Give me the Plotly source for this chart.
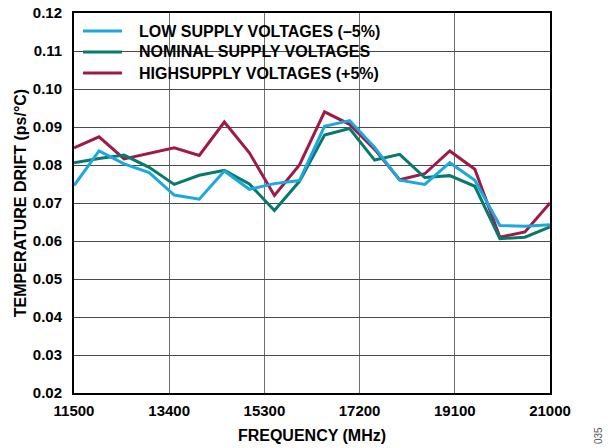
import plotly.graph_objects as go

# Frequency sweep (MHz) shared by all three supply conditions
freq_mhz = [11500, 12000, 12500, 13000, 13500, 14000, 14500, 15000, 15500, 16000,
            16500, 17000, 17500, 18000, 18500, 19000, 19500, 20000, 20500, 21000]

# Temperature drift (ps/°C) per supply condition
drift_low = [0.0746, 0.0837, 0.0803, 0.0780, 0.0721, 0.0710, 0.0784, 0.0736, 0.0751, 0.0759,
             0.0902, 0.0917, 0.0846, 0.0760, 0.0749, 0.0806, 0.0760, 0.0641, 0.0639, 0.0643]
drift_nominal = [0.0806, 0.0817, 0.0826, 0.0794, 0.0749, 0.0773, 0.0786, 0.0750, 0.0680, 0.0757,
                 0.0879, 0.0896, 0.0813, 0.0828, 0.0767, 0.0772, 0.0744, 0.0606, 0.0610, 0.0637]
drift_high = [0.0845, 0.0874, 0.0816, 0.0830, 0.0845, 0.0825, 0.0913, 0.0832, 0.0720, 0.0800,
              0.0940, 0.0907, 0.0841, 0.0761, 0.0777, 0.0837, 0.0789, 0.0610, 0.0624, 0.0700]

series_names = ["LOW SUPPLY VOLTAGES (\u20135%)", "NOMINAL SUPPLY VOLTAGES",
                "HIGHSUPPLY VOLTAGES (+5%)"]
series_colors = ["#1ba7df", "#087a6d", "#9e1b48"]

x_ticks = [11500, 13400, 15300, 17200, 19100, 21000]
y_ticks = [0.02, 0.03, 0.04, 0.05, 0.06, 0.07, 0.08, 0.09, 0.10, 0.11, 0.12]

FONT = "Liberation Sans, Arial, sans-serif"

fig = go.Figure()
series = [drift_low, drift_nominal, drift_high]
# draw high first so the low-supply curve ends up on top
for i in [2, 1, 0]:
    fig.add_trace(go.Scatter(
        x=freq_mhz, y=series[i], mode="lines", name=series_names[i],
        line=dict(color=series_colors[i], width=3), showlegend=False,
    ))

# Legend key built in paper coordinates: white panel over the gridlines,
# a short swatch line and a bold label per series
shapes = [dict(type="rect", xref="paper", yref="paper", layer="between",
               x0=0, x1=0.662, y0=0.803, y1=0.987,
               fillcolor="white", line=dict(width=0))]
annotations = []
key_rows = [0.9526, 0.8974, 0.8421]
for name, color, yk in zip(series_names, series_colors, key_rows):
    shapes.append(dict(type="line", xref="paper", yref="paper", layer="above",
                       x0=0.0189, x1=0.1008, y0=yk, y1=yk,
                       line=dict(color=color, width=3)))
    annotations.append(dict(text=name, xref="paper", yref="paper", x=0.1324, y=yk,
                            xanchor="left", yanchor="middle", showarrow=False,
                            font=dict(family=FONT, size=16, color="black", weight="bold")))

annotations.append(dict(
    text="035", xref="paper", yref="paper", x=1, y=0, xshift=48, yshift=-43,
    xanchor="center", yanchor="middle",
    textangle=-90, showarrow=False,
    font=dict(family=FONT, size=10, color="#555555", weight="normal"),
))

fig.update_layout(
    width=608, height=448,
    margin=dict(l=74, r=58, t=13, b=55, autoexpand=False),
    paper_bgcolor="white", plot_bgcolor="white",
    font=dict(family=FONT, size=15, color="black", weight="bold"),
    showlegend=False,
    xaxis=dict(
        range=[11500, 21000], tickvals=x_ticks, ticktext=[str(v) for v in x_ticks],
        showgrid=True, gridcolor="#6e6e6e", gridwidth=1.3,
        showline=True, linecolor="black", linewidth=2, mirror=True,
        ticks="", ticklabelstandoff=3, zeroline=False, automargin=False,
        title=dict(text="FREQUENCY (MHz)", standoff=12,
                   font=dict(family=FONT, size=16, weight="bold")),
    ),
    yaxis=dict(
        range=[0.02, 0.12], tickvals=y_ticks, tickformat=".2f",
        showgrid=True, gridcolor="#4a4a4a", gridwidth=1.3,
        showline=True, linecolor="black", linewidth=2, mirror=True,
        ticks="", ticklabelstandoff=7, zeroline=False, automargin=False,
        title=dict(text="TEMPERATURE DRIFT (ps/\u00b0C)", standoff=2,
                   font=dict(family=FONT, size=16, weight="bold")),
    ),
    shapes=shapes,
    annotations=annotations,
)

fig.write_html("out.html")
